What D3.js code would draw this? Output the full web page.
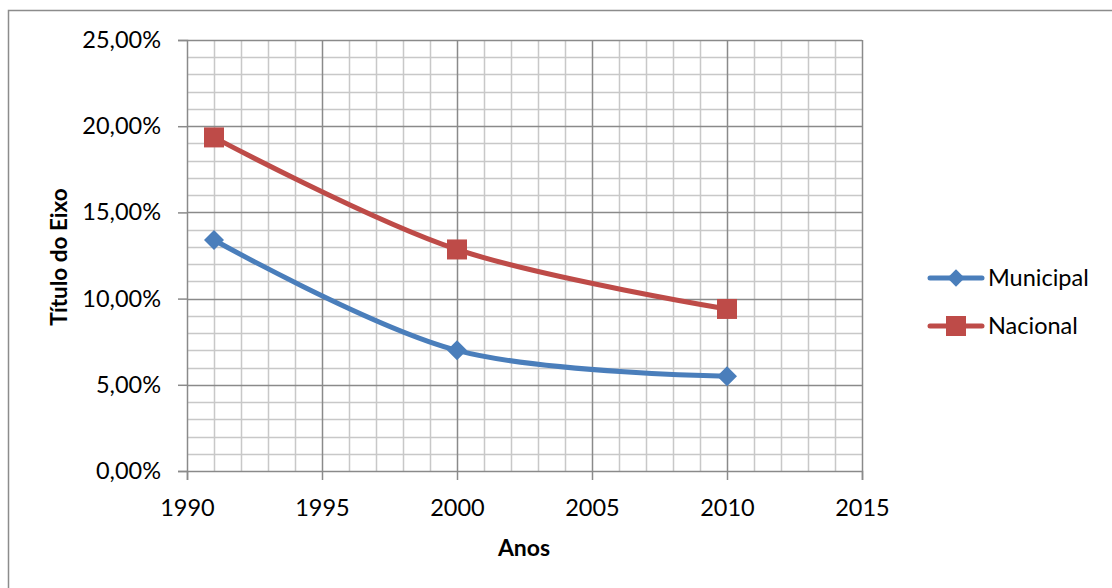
<!DOCTYPE html>
<html><head><meta charset="utf-8">
<script src="https://cdn.jsdelivr.net/npm/d3@7"></script>
<style>body{margin:0;background:#fff}svg{display:block;font-family:Lato,"Open Sans",sans-serif}</style>
</head><body>
<svg id="c" width="1112" height="588"></svg>
<script>
const years = [1991, 2000, 2010];
const municipal = [13.4, 7.0, 5.5];
const nacional = [19.35, 12.85, 9.4];
const seriesNames = ["Municipal", "Nacional"];
const seriesColors = ["#4A7EBB", "#BE4B48"];
const xTicks = [1990, 1995, 2000, 2005, 2010, 2015];
const yTicks = [0, 5, 10, 15, 20, 25];

const svg = d3.select("#c");
svg.append("rect").attr("x", 8.5).attr("y", 10.5).attr("width", 1120).attr("height", 600)
  .attr("fill", "#fff").attr("stroke", "#8c8c8c").attr("stroke-width", 1.5);

const x = d3.scaleLinear().domain([1990, 2015]).range([187, 862]);
const y = d3.scaleLinear().domain([0, 25]).range([471, 40]);

const g = svg.append("g");
// minor grid
g.selectAll(".vmin").data(d3.range(1990, 2016).filter(v => v % 5 !== 0)).join("line")
  .attr("x1", d => Math.round(x(d)) + 0.5).attr("x2", d => Math.round(x(d)) + 0.5)
  .attr("y1", y(25)).attr("y2", y(0)).attr("stroke", "#c8c8c8").attr("stroke-width", 1.5);
g.selectAll(".hmin").data(d3.range(0, 26).filter(v => v % 5 !== 0)).join("line")
  .attr("y1", d => Math.round(y(d)) + 0.5).attr("y2", d => Math.round(y(d)) + 0.5)
  .attr("x1", x(1990)).attr("x2", x(2015)).attr("stroke", "#c8c8c8").attr("stroke-width", 1.5);
// major grid
g.selectAll(".vmaj").data(xTicks.slice(1)).join("line")
  .attr("x1", d => Math.round(x(d)) + 0.5).attr("x2", d => Math.round(x(d)) + 0.5)
  .attr("y1", y(25)).attr("y2", y(0)).attr("stroke", "#8a8a8a").attr("stroke-width", 1.5);
g.selectAll(".hmaj").data(yTicks.slice(1)).join("line")
  .attr("y1", d => Math.round(y(d)) + 0.5).attr("y2", d => Math.round(y(d)) + 0.5)
  .attr("x1", x(1990)).attr("x2", x(2015)).attr("stroke", "#8a8a8a").attr("stroke-width", 1.5);

// axes
const fmt = d => d.toFixed(2).replace(".", ",") + "%";
const yAxis = svg.append("g").attr("transform", `translate(${x(1990)},0)`)
  .call(d3.axisLeft(y).tickValues(yTicks).tickSize(9).tickPadding(17).tickFormat(fmt));
const xAxis = svg.append("g").attr("transform", `translate(0,${y(0)})`)
  .call(d3.axisBottom(x).tickValues(xTicks).tickSize(9).tickPadding(19).tickFormat(d3.format("d")));
[yAxis, xAxis].forEach(a => {
  a.select(".domain").attr("stroke", "#8a8a8a").attr("stroke-width", 1.5);
  a.selectAll(".tick line").attr("stroke", "#8a8a8a").attr("stroke-width", 1.5);
  a.selectAll("text").attr("fill", "#000").style("font-size", "23.5px").style("font-family", "Lato");
});

// axis titles
svg.append("text").attr("x", 524).attr("y", 556).attr("text-anchor", "middle")
  .style("font-size", "23px").style("font-weight", "bold").text("Anos");
svg.append("text").attr("transform", "translate(67,257) rotate(-90)").attr("text-anchor", "middle")
  .style("font-size", "22.5px").style("font-weight", "bold").text("Título do Eixo");

// lines
const line = d3.line().x(d => x(d[0])).y(d => y(d[1])).curve(d3.curveCatmullRom.alpha(0));
const allSeries = [municipal, nacional];
allSeries.forEach((vals, i) => {
  const pts = years.map((yr, j) => [yr, vals[j]]);
  svg.append("path").attr("d", line(pts)).attr("fill", "none")
    .attr("stroke", seriesColors[i]).attr("stroke-width", 5).attr("stroke-linecap", "round");
});
const diamond = d3.symbol().type(d3.symbolSquare).size(200);
svg.selectAll(".mk0").data(years.map((yr, j) => [yr, municipal[j]])).join("path")
  .attr("d", diamond).attr("transform", d => `translate(${x(d[0])},${y(d[1])}) rotate(45)`)
  .attr("fill", seriesColors[0]);
svg.selectAll(".mk1").data(years.map((yr, j) => [yr, nacional[j]])).join("rect")
  .attr("x", d => x(d[0]) - 10).attr("y", d => y(d[1]) - 10).attr("width", 20).attr("height", 20)
  .attr("fill", seriesColors[1]);

// legend
seriesNames.forEach((name, i) => {
  const ly = 278 + i * 48;
  const lg = svg.append("g");
  lg.append("line").attr("x1", 930).attr("x2", 982).attr("y1", ly).attr("y2", ly)
    .attr("stroke", seriesColors[i]).attr("stroke-width", 5).attr("stroke-linecap", "round");
  if (i === 0) {
    lg.append("path").attr("d", d3.symbol().type(d3.symbolSquare).size(150)())
      .attr("transform", `translate(956,${ly}) rotate(45)`).attr("fill", seriesColors[0]);
  } else {
    lg.append("rect").attr("x", 946).attr("y", ly - 10).attr("width", 20).attr("height", 20)
      .attr("fill", seriesColors[1]);
  }
  lg.append("text").attr("x", 988).attr("y", ly).attr("dy", "0.35em")
    .style("font-size", "23.5px").text(name);
});
</script>
</body></html>
